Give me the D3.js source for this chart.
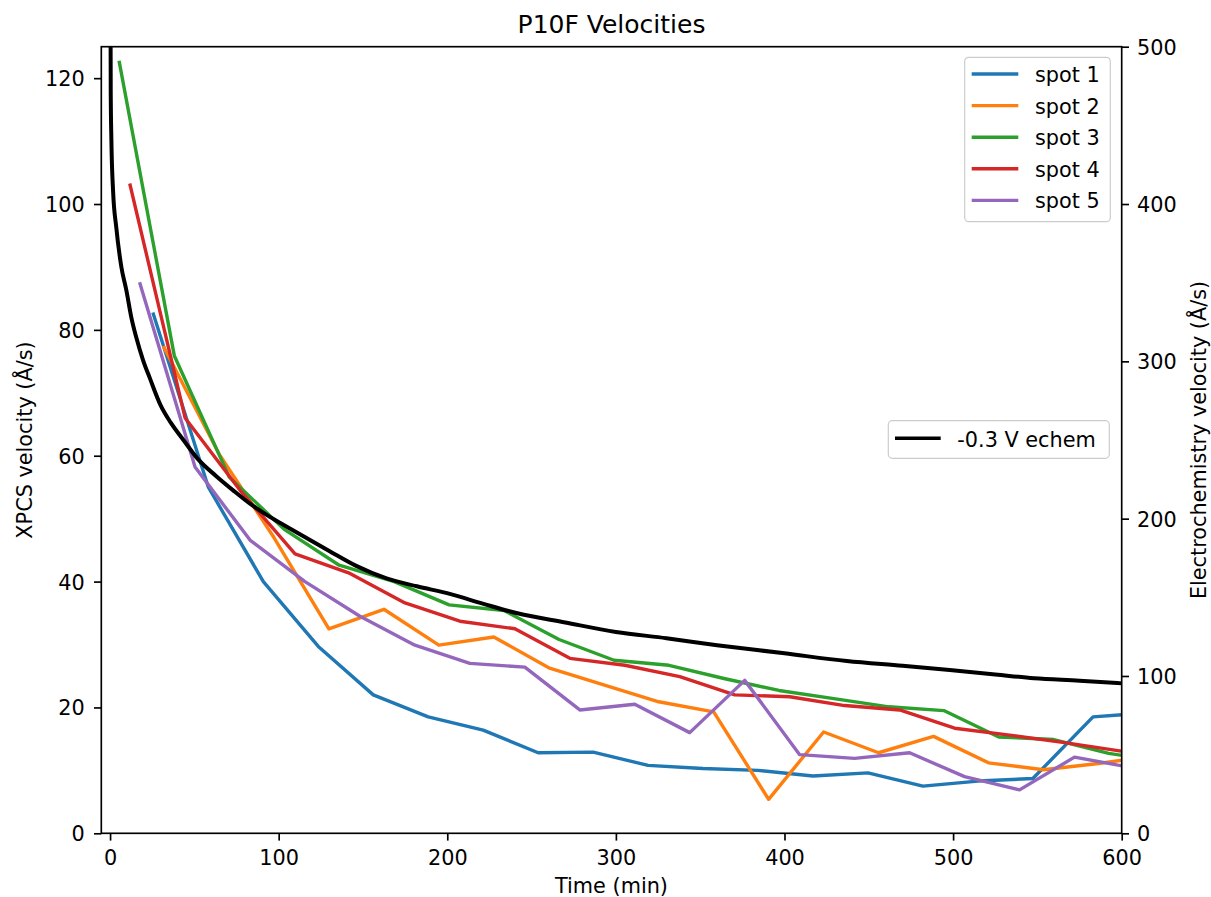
<!DOCTYPE html>
<html>
<head>
<meta charset="utf-8">
<title>P10F Velocities</title>
<script src="https://cdn.jsdelivr.net/npm/d3@7/dist/d3.min.js"></script>
<style>
  html, body { margin: 0; padding: 0; background: #fff; }
  svg { display: block; font-family: 'DejaVu Sans', sans-serif; }
</style>
</head>
<body>
<div id="diagram"></div>
<script>
// data
// time in min, velocities in A/s
const spotNames = ['spot 1', 'spot 2', 'spot 3', 'spot 4', 'spot 5'];

const spot1Time = [25.7, 58.3, 90.9, 123.5, 156.1, 188.7, 221.3, 253.9, 286.5, 319.1, 351.7, 384.3, 416.9, 449.5, 482.1, 514.7, 547.3, 583.0, 612.5];
const spot1Vel = [82.5, 55.0, 40.0, 29.7, 22.0, 18.5, 16.4, 12.8, 12.9, 10.8, 10.3, 10.0, 9.1, 9.6, 7.5, 8.3, 8.7, 18.5, 19.1];

const spot2Time = [32.0, 64.6, 97.2, 129.8, 162.4, 195.0, 227.6, 260.2, 292.8, 325.4, 358.0, 390.6, 423.2, 455.8, 488.4, 521.0, 553.6, 586.2, 618.8];
const spot2Vel = [77.2, 60.3, 47.0, 32.5, 35.6, 29.9, 31.2, 26.3, 23.6, 20.9, 19.3, 5.4, 16.1, 12.8, 15.4, 11.2, 10.1, 11.1, 12.3];

const spot3Time = [5.5, 38.1, 70.7, 103.3, 135.9, 168.5, 201.1, 233.7, 266.3, 298.9, 331.5, 364.1, 396.7, 429.3, 461.9, 494.5, 527.1, 559.7, 592.3, 624.9];
const spot3Vel = [122.5, 75.9, 56.6, 48.3, 42.6, 40.0, 36.3, 35.4, 30.8, 27.5, 26.7, 24.6, 22.7, 21.4, 20.1, 19.5, 15.3, 14.9, 12.7, 11.4];

const spot4Time = [11.9, 44.5, 77.1, 109.7, 142.3, 174.9, 207.5, 240.1, 272.7, 305.3, 337.9, 370.5, 403.1, 435.7, 468.3, 500.9, 533.5, 566.1, 598.7];
const spot4Vel = [103.0, 66.0, 54.5, 44.4, 41.3, 36.6, 33.7, 32.5, 27.8, 26.7, 24.9, 22.0, 21.7, 20.3, 19.6, 16.7, 15.6, 14.4, 13.1];

const spot5Time = [17.8, 50.4, 83.0, 115.6, 148.2, 180.8, 213.4, 246.0, 278.6, 311.2, 343.8, 376.4, 409.0, 441.6, 474.2, 506.8, 539.4, 572.0, 604.6];
const spot5Vel = [87.3, 58.2, 46.6, 40.0, 34.5, 29.9, 27.0, 26.4, 19.6, 20.5, 16.0, 24.3, 12.5, 11.9, 12.8, 9.0, 6.9, 12.1, 10.5];

const echemName = '-0.3 V echem';
const echemTime = [0, 0.4, 0.8, 1.8, 3.7, 6.7, 9.7, 12.6, 15.6, 19.5, 23.7, 30, 36, 43.5, 52, 63, 73, 83, 95, 103, 116, 130, 146, 164, 182, 202, 221, 241, 270, 300, 330, 360, 400, 437, 470, 498, 525, 548, 575, 600];
const echemVel = [640, 470, 440, 408, 385, 360, 345, 328, 315, 301, 289, 272, 261, 250, 238, 227, 218, 209.5, 201, 196, 188, 179.5, 170, 162, 157, 152, 146, 140, 134, 128, 124, 119.6, 114.4, 109.5, 106.5, 103.8, 101, 98.5, 97, 95.3];

const timeTicks = [0, 100, 200, 300, 400, 500, 600];
const xpcsTicks = [0, 20, 40, 60, 80, 100, 120];
const echemTicks = [0, 100, 200, 300, 400, 500];

!(function () {
  'use strict'
  let
    canvas = {
      width: 1211,
      height: 897,
      plot: { left: 101.3, right: 1121.7, top: 46.7, bottom: 833.3 }
    },
    font = 20.8,
    tickLen = 7.3,
    colors = d3.schemeCategory10,
    spotTimes = [spot1Time, spot2Time, spot3Time, spot4Time, spot5Time],
    spotVels = [spot1Vel, spot2Vel, spot3Vel, spot4Vel, spot5Vel],
    svg, xScale, yScale, y2Scale, line, line2, plotArea;

  svg = d3.select('#diagram')
    .append('svg')
    .attr('width', canvas.width)
    .attr('height', canvas.height);

  xScale = d3.scaleLinear()
    .domain([-5.2, 600])
    .range([canvas.plot.left, canvas.plot.right]);

  yScale = d3.scaleLinear()
    .domain([0, 125])
    .range([canvas.plot.bottom, canvas.plot.top]);

  y2Scale = d3.scaleLinear()
    .domain([0, 500])
    .range([canvas.plot.bottom, canvas.plot.top]);

  svg.append('defs').append('clipPath')
    .attr('id', 'clip')
    .append('rect')
    .attr('x', canvas.plot.left)
    .attr('y', canvas.plot.top)
    .attr('width', canvas.plot.right - canvas.plot.left)
    .attr('height', canvas.plot.bottom - canvas.plot.top);

  plotArea = svg.append('g').attr('clip-path', 'url(#clip)');

  // xpcs spots on the left axis
  line = d3.line()
    .x(function (d) { return xScale(d[0]); })
    .y(function (d) { return yScale(d[1]); });

  spotNames.forEach(function (name, i) {
    let pts = spotTimes[i].map(function (t, j) { return [t, spotVels[i][j]]; });
    plotArea.append('path')
      .datum(pts)
      .attr('d', line)
      .attr('fill', 'none')
      .attr('stroke', colors[i])
      .attr('stroke-width', 3.4)
      .attr('stroke-linejoin', 'round')
      .attr('stroke-linecap', 'square');
  });

  // legend for spots
  let leg = svg.append('g');
  leg.append('rect')
    .attr('x', 964.7).attr('y', 57.3)
    .attr('width', 145.6).attr('height', 164.4)
    .attr('rx', 4)
    .attr('fill', '#fff').attr('fill-opacity', 0.8)
    .attr('stroke', '#cccccc').attr('stroke-width', 1.2);
  spotNames.forEach(function (name, i) {
    let cy = 74 + i * 31.6;
    leg.append('line')
      .attr('x1', 971.7).attr('x2', 1018.3)
      .attr('y1', cy).attr('y2', cy)
      .attr('stroke', colors[i]).attr('stroke-width', 3.4);
    leg.append('text')
      .attr('x', 1035).attr('y', cy + 8)
      .attr('font-size', font)
      .text(name);
  });

  // echem on the right axis
  line2 = d3.line()
    .curve(d3.curveMonotoneX)
    .x(function (d) { return xScale(d[0]); })
    .y(function (d) { return y2Scale(d[1]); });

  plotArea.append('path')
    .datum(echemTime.map(function (t, j) { return [t, echemVel[j]]; }))
    .attr('d', line2)
    .attr('fill', 'none')
    .attr('stroke', '#000')
    .attr('stroke-width', 4)
    .attr('stroke-linejoin', 'round');

  let leg2 = svg.append('g');
  leg2.append('rect')
    .attr('x', 888.3).attr('y', 420.7)
    .attr('width', 221).attr('height', 37.6)
    .attr('rx', 4)
    .attr('fill', '#fff').attr('fill-opacity', 0.8)
    .attr('stroke', '#cccccc').attr('stroke-width', 1.2);
  leg2.append('line')
    .attr('x1', 895).attr('x2', 940.7)
    .attr('y1', 438.3).attr('y2', 438.3)
    .attr('stroke', '#000').attr('stroke-width', 3.4);
  leg2.append('text')
    .attr('x', 957.3).attr('y', 446.5)
    .attr('font-size', font)
    .text(echemName);

  // axes
  let xAxis = d3.axisBottom(xScale).tickValues(timeTicks)
    .tickSize(tickLen).tickSizeOuter(0).tickPadding(9.6);
  let yAxis = d3.axisLeft(yScale).tickValues(xpcsTicks)
    .tickSize(tickLen).tickSizeOuter(0).tickPadding(9.3);
  let y2Axis = d3.axisRight(y2Scale).tickValues(echemTicks)
    .tickSize(tickLen).tickSizeOuter(0).tickPadding(8);

  let styleAxis = function (g) {
    g.select('.domain').remove();
    g.selectAll('.tick line').attr('stroke', '#000').attr('stroke-width', 1.67);
    g.selectAll('.tick text').attr('fill', '#000')
      .attr('font-size', font).attr('font-family', 'DejaVu Sans');
  };

  svg.append('g')
    .attr('transform', 'translate(0,' + canvas.plot.bottom + ')')
    .call(xAxis).call(styleAxis);

  svg.append('g')
    .attr('transform', 'translate(' + canvas.plot.left + ',0)')
    .call(yAxis).call(styleAxis)
    .selectAll('.tick text').attr('dy', '0.36em');

  svg.append('g')
    .attr('transform', 'translate(' + canvas.plot.right + ',0)')
    .call(y2Axis).call(styleAxis)
    .selectAll('.tick text').attr('dy', '0.36em');

  // frame
  svg.append('rect')
    .attr('x', canvas.plot.left).attr('y', canvas.plot.top)
    .attr('width', canvas.plot.right - canvas.plot.left)
    .attr('height', canvas.plot.bottom - canvas.plot.top)
    .attr('fill', 'none').attr('stroke', '#000').attr('stroke-width', 1.67);

  // labels
  svg.append('text')
    .attr('x', (canvas.plot.left + canvas.plot.right) / 2).attr('y', 33)
    .attr('text-anchor', 'middle').attr('font-size', 25)
    .text('P10F Velocities');

  svg.append('text')
    .attr('x', (canvas.plot.left + canvas.plot.right) / 2).attr('y', 893)
    .attr('text-anchor', 'middle').attr('font-size', font)
    .text('Time (min)');

  svg.append('text')
    .attr('transform', 'translate(31.5,' + (canvas.plot.top + canvas.plot.bottom) / 2 + ') rotate(-90)')
    .attr('text-anchor', 'middle').attr('font-size', font)
    .text('XPCS velocity (Å/s)');

  svg.append('text')
    .attr('transform', 'translate(1206,' + (canvas.plot.top + canvas.plot.bottom) / 2 + ') rotate(-90)')
    .attr('text-anchor', 'middle').attr('font-size', font)
    .text('Electrochemistry velocity (Å/s)');
}())
</script>
</body>
</html>
